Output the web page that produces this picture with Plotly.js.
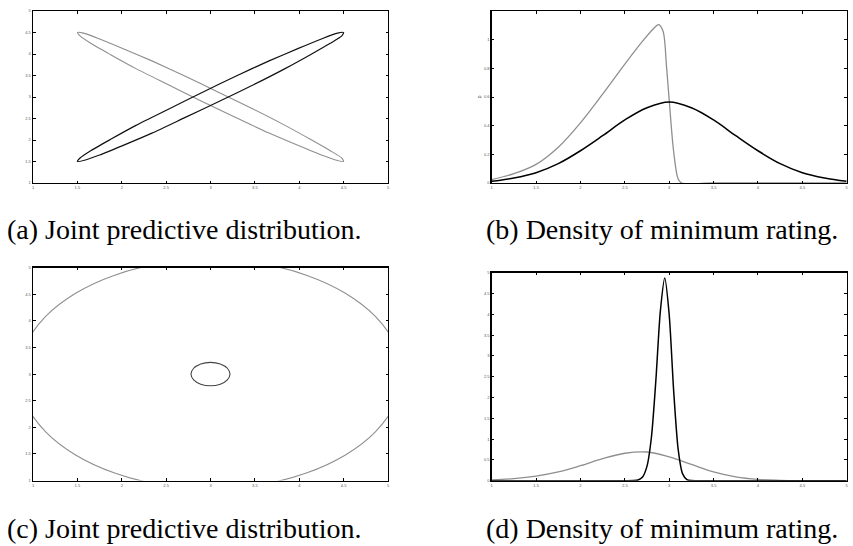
<!DOCTYPE html>
<html>
<head>
<meta charset="utf-8">
<script src="https://cdn.plot.ly/plotly-3.0.1.min.js"></script>
<style>html,body{margin:0;padding:0;background:#fff;}#plot{width:853px;height:546px;}</style>
</head>
<body>
<div id="plot"></div>
<script>
// Panel (a): joint predictive distribution (two thin ellipses)
const ellipseBlackAX = [4.50,4.42,4.25,3.99,3.66,3.29,2.90,2.52,2.16,1.87,1.65,1.53,1.50,1.58,1.75,2.01,2.34,2.71,3.10,3.49,3.84,4.13,4.35,4.48,4.50];
const ellipseBlackAY = [4.50,4.48,4.35,4.13,3.84,3.49,3.10,2.71,2.34,2.01,1.75,1.58,1.50,1.53,1.65,1.87,2.16,2.52,2.90,3.29,3.66,3.99,4.25,4.42,4.50];
const ellipseGrayAX  = [1.50,1.58,1.75,2.01,2.34,2.71,3.10,3.49,3.84,4.13,4.35,4.48,4.50,4.42,4.25,3.99,3.66,3.29,2.90,2.52,2.16,1.87,1.65,1.53,1.50];
const ellipseGrayAY  = [4.50,4.48,4.35,4.13,3.84,3.49,3.10,2.71,2.34,2.01,1.75,1.58,1.50,1.53,1.65,1.87,2.16,2.52,2.90,3.29,3.66,3.99,4.25,4.42,4.50];

// Panel (b): density of minimum rating
const densBlackBX = [1,1.25,1.5,1.75,2,2.25,2.5,2.75,3,3.25,3.5,3.75,4,4.25,4.5,4.75,5];
const densBlackBY = [0.012,0.035,0.072,0.135,0.225,0.33,0.44,0.525,0.565,0.525,0.44,0.33,0.225,0.135,0.072,0.035,0.012];
const densGrayBX  = [1,1.25,1.5,1.75,2,2.25,2.5,2.7,2.82,2.88,2.93,2.97,3.0,3.05,3.1,3.14,3.5,4,4.5,5];
const densGrayBY  = [0.024,0.065,0.13,0.25,0.42,0.62,0.83,0.99,1.075,1.105,1.06,0.81,0.58,0.22,0.03,0,0,0,0,0];

// Panel (c): joint predictive distribution (large and small circles)
const circleGrayCX  = [5.15,5.08,4.86,4.52,4.08,3.56,3.00,2.44,1.92,1.48,1.14,0.92,0.85,0.92,1.14,1.48,1.92,2.44,3.00,3.56,4.08,4.52,4.86,5.08,5.15];
const circleGrayCY  = [3.00,3.56,4.08,4.52,4.86,5.08,5.15,5.08,4.86,4.52,4.08,3.56,3.00,2.44,1.92,1.48,1.14,0.92,0.85,0.92,1.14,1.48,1.92,2.44,3.00];
const circleBlackCX = [3.22,3.19,3.11,3.00,2.89,2.81,2.78,2.81,2.89,3.00,3.11,3.19,3.22];
const circleBlackCY = [3.00,3.11,3.19,3.22,3.19,3.11,3.00,2.89,2.81,2.78,2.81,2.89,3.00];

// Panel (d): density of minimum rating
const densGrayDX  = [1,1.25,1.5,1.75,2,2.25,2.5,2.75,3,3.25,3.5,3.75,4,4.25,4.5,5];
const densGrayDY  = [0.02,0.05,0.11,0.21,0.36,0.53,0.66,0.69,0.57,0.39,0.21,0.09,0.03,0.01,0.003,0];
const densBlackDX = [1,2.5,2.6,2.65,2.7,2.75,2.8,2.85,2.9,2.95,3.0,3.05,3.1,3.15,3.2,3.25,3.35,5];
const densBlackDY = [0,0,0.003,0.018,0.09,0.35,1.05,2.42,4.07,4.87,3.99,2.17,0.77,0.17,0.025,0.002,0,0];

// Tick labels / captions
const ratingTicks = [1,1.5,2,2.5,3,3.5,4,4.5,5];
const densTicksB = [0,0.2,0.4,0.6,0.8,1];
const densTicksD = [0,0.5,1,1.5,2,2.5,3,3.5,4,4.5,5];
const captions = ["(a) Joint predictive distribution.","(b) Density of minimum rating.","(c) Joint predictive distribution.","(d) Density of minimum rating."];

const GRAY = '#8f8f8f';
function ln(x, y, color, width, xa, ya, smooth) {
  return {x: x, y: y, type: 'scatter', mode: 'lines', xaxis: xa, yaxis: ya,
    line: {color: color, width: width, shape: 'spline', smoothing: smooth === undefined ? 1 : smooth},
    hoverinfo: 'skip', showlegend: false};
}
const traces = [
  ln(ellipseGrayAX, ellipseGrayAY, GRAY, 1.1, 'x', 'y', 0.6),
  ln(ellipseBlackAX, ellipseBlackAY, '#111', 1.2, 'x', 'y', 0.6),
  ln(densGrayBX, densGrayBY, GRAY, 1.3, 'x2', 'y2', 0.9),
  ln(densBlackBX, densBlackBY, '#000', 1.5, 'x2', 'y2'),
  ln(circleGrayCX, circleGrayCY, GRAY, 1.1, 'x3', 'y3'),
  ln(circleBlackCX, circleBlackCY, '#444', 1.1, 'x3', 'y3'),
  ln(densGrayDX, densGrayDY, GRAY, 1.3, 'x4', 'y4'),
  ln(densBlackDX, densBlackDY, '#000', 1.5, 'x4', 'y4', 0.7)
];

function ax(domain, range, tickvals, anchor, extra) {
  return Object.assign({
    domain: domain, range: range, anchor: anchor,
    tickmode: 'array', tickvals: tickvals, ticktext: tickvals.map(String),
    showgrid: false, zeroline: false, showline: true, mirror: 'allticks',
    linecolor: '#000', linewidth: 1.4, ticks: 'inside', ticklen: 2.5, tickwidth: 1, tickcolor: '#000',
    tickfont: {size: 4, color: '#555', family: 'Liberation Sans'}, ticklabelstandoff: 0, fixedrange: true
  }, extra || {});
}
const W = 853, H = 546;
const xdL = [33/W, 388/W], xdR = [491.7/W, 846.7/W];
const ydTop = [1 - 183/H, 1 - 11/H];
const ydC = [1 - 480.5/H, 1 - 267.7/H];
const ydD = [1 - 480.7/H, 1 - 272.7/H];

const layout = {
  width: W, height: H, margin: {l: 0, r: 0, t: 0, b: 0},
  paper_bgcolor: '#fff', plot_bgcolor: '#fff', showlegend: false,
  xaxis:  ax(xdL, [1,5], ratingTicks, 'y'),
  yaxis:  ax(ydTop, [1,5], ratingTicks, 'x'),
  xaxis2: ax(xdR, [1,5], ratingTicks, 'y2'),
  yaxis2: ax(ydTop, [0,1.2], densTicksB, 'x2', {title: {text: 'p', font: {size: 5, color: '#555'}, standoff: 2}}),
  xaxis3: ax(xdL, [1,5], ratingTicks, 'y3'),
  yaxis3: ax(ydC, [1,5], ratingTicks, 'x3'),
  xaxis4: ax(xdR, [1,5], ratingTicks, 'y4'),
  yaxis4: ax(ydD, [0,5], densTicksD, 'x4'),
  annotations: [
    {text: captions[0], x: 184/W, y: 1 - 229/H},
    {text: captions[1], x: 662/W, y: 1 - 229/H},
    {text: captions[2], x: 184/W, y: 1 - 528/H},
    {text: captions[3], x: 662/W, y: 1 - 528/H}
  ].map(a => Object.assign({xref: 'paper', yref: 'paper', xanchor: 'center', yanchor: 'middle', showarrow: false,
    font: {family: 'Liberation Serif', size: 28, color: '#000'}}, a))
};

Plotly.newPlot('plot', traces, layout, {staticPlot: true, displayModeBar: false});
</script>
</body>
</html>
